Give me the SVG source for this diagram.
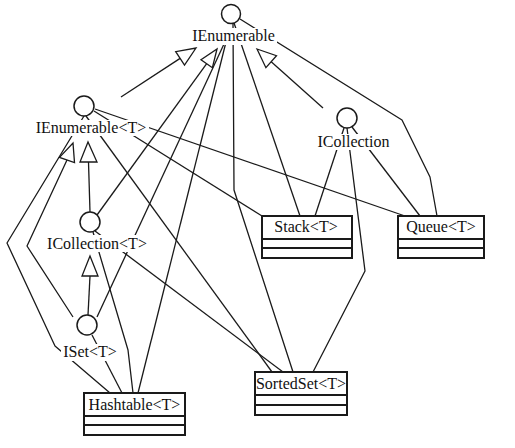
<svg xmlns="http://www.w3.org/2000/svg" width="515" height="448" viewBox="0 0 515 448">
<style>
.c{fill:none;stroke:#1a1a1a;stroke-width:1.3;stroke-linejoin:round}
.h{fill:#fff;stroke:#1a1a1a;stroke-width:1.3;stroke-linejoin:miter}
.i{fill:#fff;stroke:#1a1a1a;stroke-width:1.5}
.bg{fill:#fff;stroke:none}
.t{font-family:"Liberation Serif","Times New Roman",serif;font-size:16px;fill:#111;text-anchor:middle}
.b{fill:#fff;stroke:#1a1a1a;stroke-width:2}
.d{stroke:#1a1a1a;stroke-width:2}
</style>
<rect width="515" height="448" fill="#fff"/>
<g id="connectors">
  <polyline class="c" points="121,97 180.1,58.4"/>
  <polygon class="h" points="196,48 184.5,65.1 175.7,51.7"/>
  <polyline class="c" points="323,108 271.2,61.7"/>
  <polygon class="h" points="257,49 265.9,67.7 276.5,55.7"/>
  <polyline class="c" points="97,215 206.7,63.7"/>
  <polygon class="h" points="217,49 212.4,67.7 201,59.7"/>
  <polyline class="c" points="90,212 88.5,162"/>
  <polygon class="h" points="88,142 80,162 97,162"/>
  <polyline class="c" points="88,315 90,276"/>
  <polygon class="h" points="90,256 82,276 98,276"/>
  <polyline class="c" points="73,317 27,246 67,160"/>
  <polygon class="h" points="73,143 74.5,162.6 59.5,157.4"/>
  <polyline class="c" points="84,116 7,243 55,346 110,393"/>
  <polyline class="c" points="97,317 224,44"/>
  <polyline class="c" points="92,335 122,393"/>
  <polyline class="c" points="93,232 128,350 133,393"/>
  <polyline class="c" points="229,30 138,393"/>
  <polyline class="c" points="86,116 272,372"/>
  <polyline class="c" points="95,231 283,372"/>
  <polyline class="c" points="233,24 234,190 293,372"/>
  <polyline class="c" points="347,128 365,271 313,372"/>
  <polyline class="c" points="94,111 262,216"/>
  <polyline class="c" points="234,23 300,216"/>
  <polyline class="c" points="344,128 315,216"/>
  <polyline class="c" points="95,109 405,216"/>
  <polyline class="c" points="240,19 402,120 430,177 437,216"/>
  <polyline class="c" points="352,127 420,216"/>
</g>
<g id="IEnumerable">
  <circle class="i" cx="231" cy="14" r="9.5"/>
  <rect class="bg" x="190" y="28" width="87" height="17"/>
  <text class="t" x="233.5" y="41">IEnumerable</text>
</g>
<g id="IEnumerableT">
  <circle class="i" cx="84" cy="106" r="10"/>
  <rect class="bg" x="33" y="120" width="116" height="16"/>
  <text class="t" x="91" y="133">IEnumerable&lt;T&gt;</text>
</g>
<g id="ICollection">
  <circle class="i" cx="347" cy="118" r="10"/>
  <rect class="bg" x="315" y="134" width="77" height="16"/>
  <text class="t" x="353.5" y="147">ICollection</text>
</g>
<g id="ICollectionT">
  <circle class="i" cx="90" cy="222" r="10"/>
  <rect class="bg" x="45" y="235" width="104" height="17"/>
  <text class="t" x="97" y="249">ICollection&lt;T&gt;</text>
</g>
<g id="ISetT">
  <circle class="i" cx="87" cy="325" r="10"/>
  <rect class="bg" x="61" y="344" width="58" height="17"/>
  <text class="t" x="90" y="357">ISet&lt;T&gt;</text>
</g>
<g id="StackT">
  <rect class="b" x="262" y="216" width="90" height="42"/>
  <line class="d" x1="262" y1="239" x2="352" y2="239"/>
  <line class="d" x1="262" y1="248" x2="352" y2="248"/>
  <text class="t" x="306" y="232">Stack&lt;T&gt;</text>
</g>
<g id="QueueT">
  <rect class="b" x="398" y="216" width="86" height="42"/>
  <line class="d" x1="398" y1="239" x2="484" y2="239"/>
  <line class="d" x1="398" y1="248" x2="484" y2="248"/>
  <text class="t" x="441" y="232">Queue&lt;T&gt;</text>
</g>
<g id="SortedSetT">
  <rect class="b" x="255" y="372" width="92" height="43"/>
  <line class="d" x1="255" y1="395" x2="347" y2="395"/>
  <line class="d" x1="255" y1="405" x2="347" y2="405"/>
  <text class="t" x="301" y="389">SortedSet&lt;T&gt;</text>
</g>
<g id="HashtableT">
  <rect class="b" x="84" y="393" width="101" height="42"/>
  <line class="d" x1="84" y1="416" x2="185" y2="416"/>
  <line class="d" x1="84" y1="425" x2="185" y2="425"/>
  <text class="t" x="134.5" y="410">Hashtable&lt;T&gt;</text>
</g>
</svg>
